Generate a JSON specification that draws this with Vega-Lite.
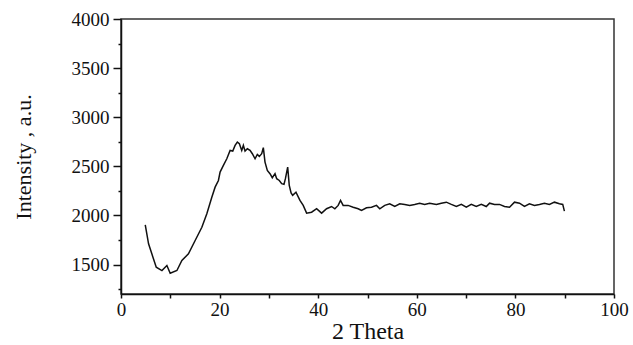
{
  "$schema": "https://vega.github.io/schema/vega-lite/v6.json",
  "width": 493,
  "height": 275,
  "autosize": "none",
  "padding": {"left": 121, "top": 19, "right": 19, "bottom": 51},
  "background": "white",
  "config": {
    "view": {"stroke": "#333", "strokeWidth": 1.5},
    "font": "Liberation Serif",
    "axis": {"labelFont": "Liberation Serif", "titleFont": "Liberation Serif"}
  },
  "data": {
    "values": [
      {"t": 4.92, "i": 1905}, {"t": 5.59, "i": 1711}, {"t": 6.48, "i": 1575}, {"t": 7.15, "i": 1473},
      {"t": 8.30, "i": 1439}, {"t": 9.31, "i": 1490}, {"t": 9.98, "i": 1412}, {"t": 11.34, "i": 1439},
      {"t": 12.35, "i": 1541}, {"t": 13.68, "i": 1609}, {"t": 15.04, "i": 1745}, {"t": 16.40, "i": 1880},
      {"t": 17.41, "i": 2017}, {"t": 18.42, "i": 2186}, {"t": 19.09, "i": 2288}, {"t": 19.76, "i": 2356},
      {"t": 20.10, "i": 2441}, {"t": 20.77, "i": 2509}, {"t": 21.46, "i": 2577}, {"t": 22.13, "i": 2662},
      {"t": 22.67, "i": 2655}, {"t": 23.14, "i": 2713}, {"t": 23.60, "i": 2747}, {"t": 24.01, "i": 2730},
      {"t": 24.49, "i": 2662}, {"t": 24.82, "i": 2713}, {"t": 25.16, "i": 2655}, {"t": 25.63, "i": 2679},
      {"t": 26.17, "i": 2662}, {"t": 26.64, "i": 2628}, {"t": 27.19, "i": 2577}, {"t": 27.65, "i": 2621},
      {"t": 28.06, "i": 2601}, {"t": 28.54, "i": 2628}, {"t": 28.87, "i": 2690}, {"t": 29.21, "i": 2543},
      {"t": 29.68, "i": 2458}, {"t": 30.22, "i": 2425}, {"t": 30.69, "i": 2384}, {"t": 31.24, "i": 2425},
      {"t": 31.58, "i": 2374}, {"t": 32.11, "i": 2356}, {"t": 32.59, "i": 2323}, {"t": 33.06, "i": 2316},
      {"t": 33.36, "i": 2377}, {"t": 33.81, "i": 2492}, {"t": 34.13, "i": 2305}, {"t": 34.50, "i": 2230},
      {"t": 34.82, "i": 2204}, {"t": 35.49, "i": 2237}, {"t": 36.30, "i": 2153}, {"t": 36.96, "i": 2102},
      {"t": 37.65, "i": 2023},
      {"t": 38.66, "i": 2033}, {"t": 39.68, "i": 2068}, {"t": 40.69, "i": 2023}, {"t": 41.70, "i": 2068},
      {"t": 42.71, "i": 2091}, {"t": 43.38, "i": 2068}, {"t": 44.05, "i": 2102}, {"t": 44.53, "i": 2153},
      {"t": 45.06, "i": 2102}, {"t": 46.07, "i": 2102}, {"t": 47.09, "i": 2084}, {"t": 48.10, "i": 2068},
      {"t": 48.79, "i": 2051}, {"t": 49.80, "i": 2078}, {"t": 50.81, "i": 2084}, {"t": 51.82, "i": 2102},
      {"t": 52.49, "i": 2068}, {"t": 53.50, "i": 2102}, {"t": 54.51, "i": 2119}, {"t": 55.53, "i": 2091},
      {"t": 56.54, "i": 2119}, {"t": 57.55, "i": 2112}, {"t": 58.56, "i": 2102}, {"t": 59.57, "i": 2112},
      {"t": 60.59, "i": 2125}, {"t": 61.60, "i": 2112}, {"t": 62.61, "i": 2125}, {"t": 63.97, "i": 2112},
      {"t": 64.98, "i": 2125}, {"t": 65.99, "i": 2135}, {"t": 67.00, "i": 2112}, {"t": 68.02, "i": 2091},
      {"t": 69.03, "i": 2112}, {"t": 70.04, "i": 2084}, {"t": 71.05, "i": 2112}, {"t": 72.06, "i": 2091},
      {"t": 73.08, "i": 2112}, {"t": 74.09, "i": 2091}, {"t": 74.76, "i": 2125}, {"t": 75.77, "i": 2112},
      {"t": 76.78, "i": 2112}, {"t": 77.79, "i": 2091}, {"t": 78.81, "i": 2084}, {"t": 79.82, "i": 2135},
      {"t": 80.83, "i": 2125}, {"t": 81.84, "i": 2091}, {"t": 82.85, "i": 2119}, {"t": 83.87, "i": 2102},
      {"t": 84.88, "i": 2112}, {"t": 85.89, "i": 2125}, {"t": 86.90, "i": 2112}, {"t": 87.92, "i": 2135},
      {"t": 88.93, "i": 2119}, {"t": 89.60, "i": 2112}, {"t": 89.94, "i": 2044}
    ]
  },
  "mark": {"type": "line", "color": "#111", "strokeWidth": 1.5, "clip": true},
  "encoding": {
    "x": {
      "field": "t", "type": "quantitative",
      "scale": {"domain": [0, 100], "nice": false, "zero": false},
      "axis": {
        "title": "2 Theta",
        "titleFontSize": 24, "titleFontWeight": "normal", "titleColor": "#111",
        "titlePadding": 0,
        "values": [0, 10, 20, 30, 40, 50, 60, 70, 80, 90, 100],
        "labelExpr": "datum.value % 20 == 0 ? format(datum.value, 'd') : ''",
        "labelFontSize": 19, "labelColor": "#111",
        "labelPadding": 2, "labelFlush": false, "labelOverlap": false,
        "tickSize": 4, "tickColor": "#111", "tickWidth": 1.5,
        "domainColor": "#111", "domainWidth": 1.5, "grid": false
      }
    },
    "y": {
      "field": "i", "type": "quantitative",
      "scale": {"domain": [1200, 4000], "nice": false, "zero": false},
      "axis": {
        "title": "Intensity , a.u.",
        "titleFontSize": 22, "titleFontWeight": "normal", "titleColor": "#111",
        "titlePadding": 36,
        "values": [1250, 1500, 1750, 2000, 2250, 2500, 2750, 3000, 3250, 3500, 3750, 4000],
        "labelExpr": "datum.value % 500 == 0 ? format(datum.value, 'd') : ''",
        "labelFontSize": 19, "labelColor": "#111",
        "labelPadding": 4, "labelFlush": false, "labelOverlap": false,
        "tickSize": {"condition": {"test": "datum.value % 500 == 0", "value": 8}, "value": 3},
        "tickColor": "#111", "tickWidth": 1.5,
        "domainColor": "#111", "domainWidth": 1.5, "grid": false
      }
    }
  }
}
